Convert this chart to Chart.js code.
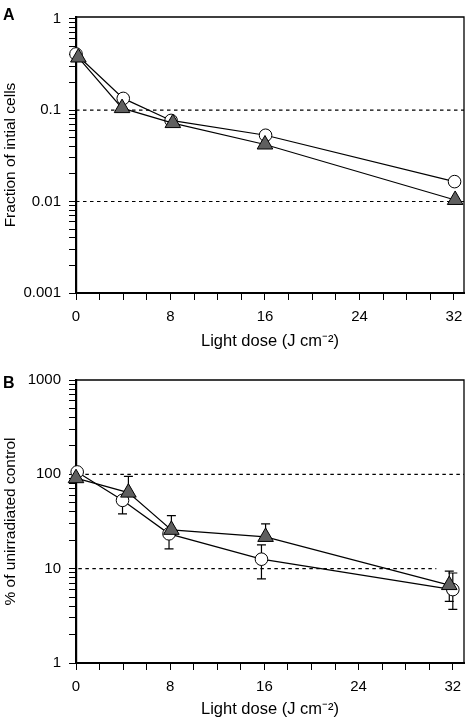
<!DOCTYPE html>
<html><head><meta charset="utf-8">
<script src="https://cdn.jsdelivr.net/npm/chart.js@4/dist/chart.umd.min.js"></script>
<style>
body{margin:0;background:#fff;width:474px;height:720px;position:relative;overflow:hidden;font-family:"Liberation Sans",Arial,sans-serif;}
.wrap{position:absolute;left:0;width:474px;height:360px;}
.lab{position:absolute;font-weight:bold;font-size:16px;line-height:16px;color:#000;}
</style></head><body>
<div class="wrap" style="top:0"><canvas id="ca" width="474" height="360"></canvas></div>
<div class="wrap" style="top:360px"><canvas id="cb" width="474" height="360"></canvas></div>
<div class="lab" style="left:3px;top:7px">A</div>
<div class="lab" style="left:3px;top:375px">B</div>
<script>
// ---- Panel A data ----
const doseCircA = [0, 4, 8.05, 16.05, 32.05];
const fracCircA = [0.41, 0.134, 0.077, 0.053, 0.0165];
const doseTriA  = [0.2, 3.9, 8.2, 16, 32.1];
const fracTriA  = [0.375, 0.105, 0.072, 0.042, 0.0104];
const refLinesA = [0.1, 0.01];
const yMajorA   = [0.001, 0.01, 0.1, 1];
const yLabelsA  = ['0.001', '0.01', '0.1', '1'];

// ---- Panel B data ----
const doseCircB  = [0.1, 3.95, 7.9, 15.75, 32.0];
const pctCircB   = [106, 53, 23.4, 12.6, 6.0];
const errUpCircB = [null, null, null, 17.9, 9.0];
const errDnCircB = [null, 38, 16.2, 7.8, 3.7];
const doseTriB   = [0, 4.45, 8.1, 16.1, 31.7];
const pctTriB    = [91, 64, 25.8, 21.7, 6.7];
const errUpTriB  = [null, 95, 36.5, 29.9, 9.4];
const errDnTriB  = [null, null, null, null, 4.5];
const refLinesB  = [100, 10];
const refEndB    = [32.95, 30.6];
const yMajorB    = [1, 10, 100, 1000];
const yLabelsB   = ['1', '10', '100', '1000'];

// ---- shared axis ----
const xMajor  = [0, 8, 16, 24, 32];
const xLabels = ['0', '8', '16', '24', '32'];
const xTitle  = 'Light dose (J cm\u207B\u00B2)';
const yTitleA = 'Fraction of intial cells';
const yTitleB = '% of unirradiated control';

const FAM = '"Liberation Sans", Arial, Helvetica, sans-serif';

function pts(xs, ys){ return xs.map((x,i)=>({x:x, y:ys[i]})); }
function logTicks(majors){
  const t=[];
  for(let i=0;i<majors.length-1;i++){ for(let k=1;k<=9;k++) t.push({value:k*majors[i]}); }
  t.push({value:majors[majors.length-1]});
  return t;
}
function xTicks(){ const t=[]; for(let v=0; v<=32; v+=2) t.push({value:v}); return t; }

const framePlugin = {
  id:'frame',
  afterDatasetsDraw(chart){
    const {ctx, chartArea:a} = chart;
    ctx.save(); ctx.strokeStyle='#000'; ctx.lineWidth=1.3;
    ctx.beginPath(); ctx.moveTo(a.left, a.top); ctx.lineTo(a.right, a.top); ctx.lineTo(a.right, a.bottom); ctx.stroke();
    ctx.restore();
  }
};
function errorPlugin(sets){
  return {
    id:'errorBars',
    beforeDatasetsDraw(chart){
      const {ctx} = chart; const xs=chart.scales.x, ys=chart.scales.y;
      ctx.save(); ctx.strokeStyle='#000'; ctx.lineWidth=1.2;
      sets.forEach(s=>{
        s.x.forEach((xv,i)=>{
          const px=xs.getPixelForValue(xv), py=ys.getPixelForValue(s.y[i]);
          [s.up[i], s.dn[i]].forEach(e=>{
            if(e==null) return;
            const pe=ys.getPixelForValue(e);
            ctx.beginPath(); ctx.moveTo(px,py); ctx.lineTo(px,pe);
            ctx.moveTo(px-4.5,pe); ctx.lineTo(px+4.5,pe); ctx.stroke();
          });
        });
      });
      ctx.restore();
    }
  };
}

function buildChart(id, c){
  const datasets = [
    {data:pts(c.triX,c.triY), showLine:true, borderColor:'#000', borderWidth:1.2,
     pointStyle:'triangle', pointRadius:9, pointBackgroundColor:'#5f5f5f', pointBorderColor:'#000', pointBorderWidth:1, clip:false, order:0},
    {data:pts(c.cirX,c.cirY), showLine:true, borderColor:'#000', borderWidth:1.2,
     pointStyle:'circle', pointRadius:6.3, pointBackgroundColor:'#fff', pointBorderColor:'#000', pointBorderWidth:1, clip:false, order:1}
  ];
  c.refs.forEach((r,i)=>{
    datasets.push({data:[{x:c.refStart,y:r},{x:c.refEnd[i],y:r}], showLine:true, borderColor:'#000', borderWidth:1.2,
      borderDash:[3.5,3.5], pointRadius:0, order:2});
  });
  return new Chart(document.getElementById(id), {
    type:'scatter',
    data:{datasets},
    options:{
      responsive:false, animation:false, events:[],
      layout:{padding:{top:c.padTop, right:3, bottom:c.padBottom, left:0}},
      plugins:{legend:{display:false}, tooltip:{enabled:false}},
      scales:{
        x:{type:'linear', min:0, max:c.xMax,
          afterBuildTicks:s=>{ s.ticks = xTicks(); },
          afterFit:s=>{ s.height = c.xH; },
          ticks:{autoSkip:false, maxRotation:0, padding:8, color:'#000', font:{family:FAM, size:15},
            callback:v=>{ const i=xMajor.indexOf(v); return i>=0 ? xLabels[i] : ''; }},
          grid:{display:true, drawOnChartArea:false, drawTicks:true, tickLength:7, tickColor:'#000', tickWidth:1},
          border:{display:true, color:'#000', width:2},
          title:{display:true, text:xTitle, color:'#000', font:{family:FAM, size:16.5}, padding:{top:0, bottom:c.titlePad}}
        },
        y:{type:'logarithmic', min:c.yMin, max:c.yMax,
          afterBuildTicks:s=>{ s.ticks = logTicks(c.yMajor); },
          afterFit:s=>{ s.width = 76; },
          ticks:{autoSkip:false, padding:8, color:'#000', font:{family:FAM, size:15},
            callback:v=>{ const i=c.yMajor.findIndex(m=>Math.abs(Math.log10(v/m))<1e-6); return i>=0 ? c.yLabels[i] : ''; }},
          grid:{display:true, drawOnChartArea:false, drawTicks:true, tickLength:7, tickColor:'#000', tickWidth:1},
          border:{display:true, color:'#000', width:2.2},
          title:{display:true, text:c.yTitle, color:'#000', font:{family:FAM, size:15.5}, padding:{top:1, bottom:0}}
        }
      }
    },
    plugins:[framePlugin, errorPlugin(c.err || [])]
  });
}

buildChart('ca', {
  triX:doseTriA, triY:fracTriA, cirX:doseCircA, cirY:fracCircA,
  refs:refLinesA, refStart:0, refEnd:[32.85, 32.85],
  yMajor:yMajorA, yLabels:yLabelsA, yMin:0.001, yMax:1.04, yTitle:yTitleA,
  xMax:32.85, padTop:11, padBottom:6, xH:61, titlePad:3
});
buildChart('cb', {
  triX:doseTriB, triY:pctTriB, cirX:doseCircB, cirY:pctCircB,
  refs:refLinesB, refStart:0.2, refEnd:refEndB,
  yMajor:yMajorB, yLabels:yLabelsB, yMin:1, yMax:1000, yTitle:yTitleB,
  xMax:32.95, padTop:20, padBottom:0, xH:57, titlePad:1,
  err:[
    {x:doseCircB, y:pctCircB, up:errUpCircB, dn:errDnCircB},
    {x:doseTriB, y:pctTriB, up:errUpTriB, dn:errDnTriB}
  ]
});
</script>
</body></html>
